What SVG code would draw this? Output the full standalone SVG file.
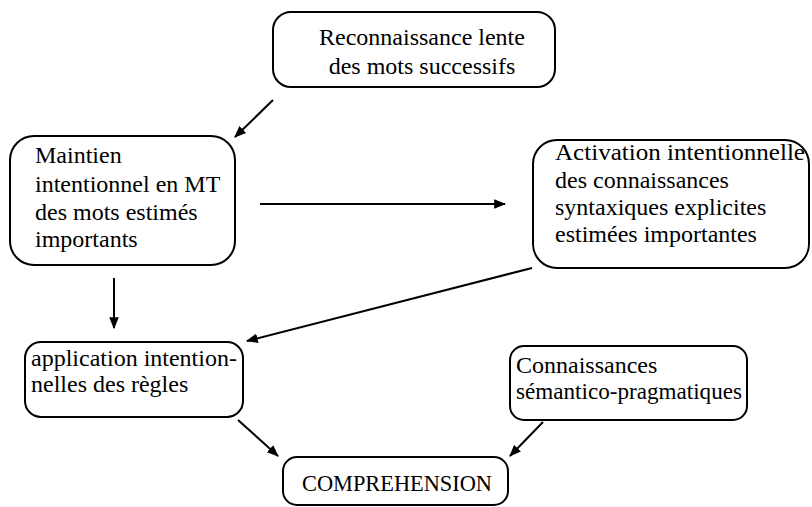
<svg xmlns="http://www.w3.org/2000/svg" width="812" height="507" viewBox="0 0 812 507">
<style>
.box{fill:#fff;stroke:#000;stroke-width:2}
.t{font-family:"Liberation Serif","Times New Roman",serif;font-size:24px;fill:#000}
.c{text-anchor:middle}
.ln{stroke:#000;stroke-width:2;fill:none;marker-end:url(#ah)}
</style>
<defs>
<marker id="ah" viewBox="0 0 10 10" refX="9" refY="5" markerWidth="6" markerHeight="6" orient="auto" markerUnits="strokeWidth">
<path d="M0,1 L10,5 L0,9 z" fill="#000"/>
</marker>
</defs>
<rect width="812" height="507" fill="#fff"/>
<g id="n1">
<rect class="box" x="273" y="12" width="282" height="75" rx="18"/>
<text class="t c" x="422" y="45">Reconnaissance lente</text>
<text class="t c" x="422" y="74">des mots successifs</text>
</g>
<g id="n2">
<rect class="box" x="10" y="136" width="225" height="129" rx="24"/>
<text class="t" x="35" y="163">Maintien</text>
<text class="t" x="35" y="192">intentionnel en MT</text>
<text class="t" x="35" y="220">des mots estimés</text>
<text class="t" x="35" y="247">importants</text>
</g>
<g id="n3">
<rect class="box" x="533" y="140" width="276" height="128" rx="24"/>
<text class="t" x="555" y="160" textLength="250" lengthAdjust="spacingAndGlyphs">Activation intentionnelle</text>
<text class="t" x="555" y="188">des connaissances</text>
<text class="t" x="555" y="215">syntaxiques explicites</text>
<text class="t" x="555" y="242">estimées importantes</text>
</g>
<g id="n4">
<rect class="box" x="25" y="342" width="218" height="75" rx="16"/>
<text class="t" x="31" y="366">application intention-</text>
<text class="t" x="31" y="392">nelles des règles</text>
</g>
<g id="n5">
<rect class="box" x="510" y="346" width="237" height="74" rx="14"/>
<text class="t" x="516" y="373">Connaissances</text>
<text class="t" x="516" y="399" textLength="226" lengthAdjust="spacingAndGlyphs">sémantico-pragmatiques</text>
</g>
<g id="n6">
<rect class="box" x="283" y="457" width="225" height="48" rx="14"/>
<text class="t" x="302" y="491" textLength="190" lengthAdjust="spacingAndGlyphs">COMPREHENSION</text>
</g>
<g id="connectors">
<line class="ln" x1="273" y1="100" x2="235" y2="137"/>
<line class="ln" x1="260" y1="204" x2="505" y2="204"/>
<line class="ln" x1="114" y1="278" x2="114" y2="328"/>
<line class="ln" x1="532" y1="268" x2="247" y2="341"/>
<line class="ln" x1="238" y1="420" x2="278" y2="456"/>
<line class="ln" x1="543" y1="422" x2="510" y2="456"/>
</g>
</svg>
